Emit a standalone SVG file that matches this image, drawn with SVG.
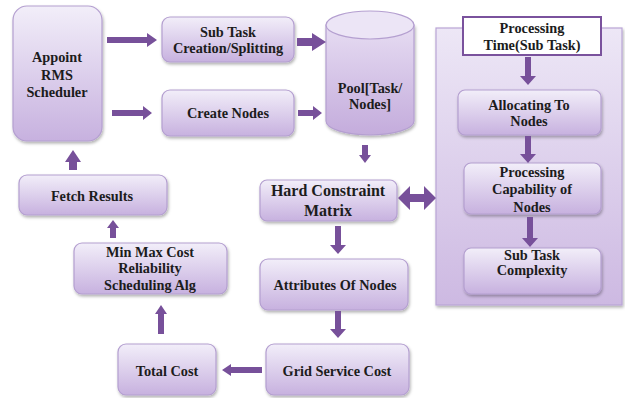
<svg xmlns="http://www.w3.org/2000/svg" width="625" height="398" viewBox="0 0 625 398">
<defs>
<linearGradient id="g" x1="0" y1="0" x2="0" y2="1">
<stop offset="0" stop-color="#f2eef9"/>
<stop offset="1" stop-color="#c7b1df"/>
</linearGradient>
<linearGradient id="gc" x1="0" y1="0" x2="0" y2="1">
<stop offset="0" stop-color="#e6dcf2"/>
<stop offset="1" stop-color="#c4acdc"/>
</linearGradient>
<linearGradient id="gp" x1="0" y1="0" x2="0" y2="1">
<stop offset="0" stop-color="#ede7f6"/>
<stop offset="1" stop-color="#cdb9e2"/>
</linearGradient>
<filter id="sh" x="-10%" y="-10%" width="125%" height="130%">
<feDropShadow dx="1" dy="2" stdDeviation="1.5" flood-color="#000" flood-opacity="0.3"/>
</filter>
</defs>
<style>
.box{fill:url(#g);stroke:#b49fd0;stroke-width:1.2;filter:url(#sh)}
.t{font-family:'Liberation Serif','Times New Roman','DejaVu Serif',serif;font-weight:bold;font-size:14.3px;fill:#1c1c1c;text-anchor:middle}
.a{fill:#77509a}
</style>
<rect width="625" height="398" fill="#fff"/>

<g id="panel">
<rect x="436" y="28" width="186" height="277" fill="url(#gp)" stroke="#b9a5d6" stroke-width="1.2" filter="url(#sh)"/>
</g>

<g id="appoint">
<rect class="box" x="13" y="6" width="89" height="135" rx="14"/>
<text class="t" x="57" y="62">Appoint</text>
<text class="t" x="57" y="80">RMS</text>
<text class="t" x="57" y="97">Scheduler</text>
</g>
<g id="subtask">
<rect class="box" x="162" y="17" width="132" height="45" rx="8"/>
<text class="t" x="228" y="37">Sub Task</text>
<text class="t" x="228" y="53">Creation/Splitting</text>
</g>
<g id="createnodes">
<rect class="box" x="162" y="90" width="132" height="46" rx="8"/>
<text class="t" x="228" y="118">Create Nodes</text>
</g>
<g id="pool">
<path d="M326,25 L326,121 A44,14 0 0 0 414,121 L414,25 Z" fill="url(#gc)" stroke="#b49fd0" stroke-width="1.2" filter="url(#sh)"/>
<ellipse cx="370" cy="25" rx="44" ry="14" fill="#ece5f6" stroke="#b49fd0" stroke-width="1.2"/>
<text class="t" x="370" y="93">Pool[Task/</text>
<text class="t" x="370" y="109">Nodes]</text>
</g>
<g id="proctime">
<rect x="463" y="17" width="138" height="38" fill="#fff" stroke="#7a529d" stroke-width="2"/>
<text class="t" x="532" y="33">Processing</text>
<text class="t" x="532" y="50">Time(Sub Task)</text>
</g>
<g id="allocating">
<rect class="box" x="458" y="90" width="143" height="45" rx="7"/>
<text class="t" x="529" y="110">Allocating To</text>
<text class="t" x="529" y="126">Nodes</text>
</g>
<g id="capability">
<rect class="box" x="464" y="163" width="137" height="51" rx="7"/>
<text class="t" x="532" y="177">Processing</text>
<text class="t" x="532" y="194">Capability of</text>
<text class="t" x="532" y="212">Nodes</text>
</g>
<g id="complexity">
<rect class="box" x="464" y="248" width="137" height="46" rx="7"/>
<text class="t" x="532" y="260">Sub Task</text>
<text class="t" x="532" y="275">Complexity</text>
</g>
<g id="hard">
<rect class="box" x="260" y="180" width="137" height="41" rx="7"/>
<text class="t" x="328" y="196" style="font-size:16px">Hard Constraint</text>
<text class="t" x="328" y="216" style="font-size:16px">Matrix</text>
</g>
<g id="attributes">
<rect class="box" x="260" y="259" width="148" height="51" rx="8"/>
<text class="t" x="335" y="290">Attributes Of Nodes</text>
</g>
<g id="grid">
<rect class="box" x="266" y="344" width="143" height="51" rx="8"/>
<text class="t" x="337" y="376">Grid Service Cost</text>
</g>
<g id="total">
<rect class="box" x="118" y="344" width="98" height="51" rx="8"/>
<text class="t" x="167" y="376">Total Cost</text>
</g>
<g id="minmax">
<rect class="box" x="74" y="243" width="153" height="51" rx="8"/>
<text class="t" x="150" y="257">Min Max Cost</text>
<text class="t" x="150" y="273">Reliability</text>
<text class="t" x="150" y="290">Scheduling Alg</text>
</g>
<g id="fetch">
<rect class="box" x="19" y="175" width="148" height="40" rx="8"/>
<text class="t" x="92" y="201">Fetch Results</text>
</g>

<g id="connectors">
<path class="a" d="M107,37 H147 V33 L157,40 L147,47 V43 H107 Z"/>
<path class="a" d="M112,110 H143 V106 L152,113 L143,120 V116 H112 Z"/>
<path class="a" d="M297,38 H312 V33 L326,42 L312,51 V46 H297 Z"/>
<path class="a" d="M298,110 H313 V106 L322,113 L313,120 V116 H298 Z"/>
<path class="a" d="M362,145 V155 H359 L365,163 L371,155 H368 V145 Z"/>
<path class="a" d="M69,170 V162 H65 L73,150 L81,162 H77 V170 Z"/>
<path class="a" d="M110,238 V228 H107 L113,220 L119,228 H116 V238 Z"/>
<path class="a" d="M158,334 V314 H155 L161,305 L167,314 H164 V334 Z"/>
<path class="a" d="M262,367 H231 V364 L222,370 L231,376 V373 H262 Z"/>
<path class="a" d="M335,226 V245 H330 L338,254 L346,245 H341 V226 Z"/>
<path class="a" d="M335,311 V329 H330 L338,338 L346,329 H341 V311 Z"/>
<path class="a" d="M525,57 V76 H520 L528,85 L536,76 H531 V57 Z"/>
<path class="a" d="M525,136 V154 H520 L528,163 L536,154 H531 V136 Z"/>
<path class="a" d="M527,217 V238 H522 L530,247 L538,238 H533 V217 Z"/>
<path class="a" d="M398,198 L410,186 V194 H424 V186 L436,198 L424,210 V202 H410 V210 Z"/>
</g>
</svg>
